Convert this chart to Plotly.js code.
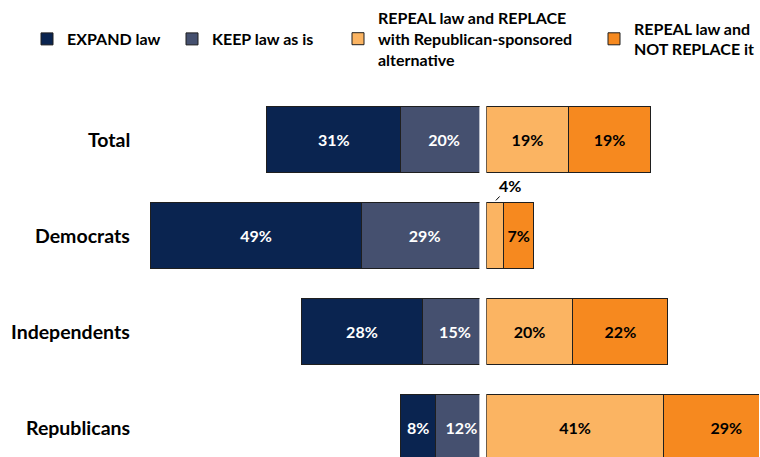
<!DOCTYPE html>
<html>
<head>
<meta charset="utf-8">
<script src="https://cdn.plot.ly/plotly-3.0.1.min.js"></script>
<style>html,body{margin:0;padding:0;background:#fff;}#chart{width:760px;height:457px;}</style>
</head>
<body>
<div id="chart"></div>
<script>
// ---- data ----
var categories = ['Total', 'Democrats', 'Independents', 'Republicans'];
var expandLaw = [31, 49, 28, 8];
var keepLaw = [20, 29, 15, 12];
var repealReplace = [19, 4, 20, 41];
var repealNotReplace = [19, 7, 22, 29];
var seriesNames = ['EXPAND law', 'KEEP law as is',
  'REPEAL law and REPLACE<br>with Republican-sponsored<br>alternative',
  'REPEAL law and<br>NOT REPLACE it'];

var FONT = 'Lato, "Open Sans", sans-serif';
var PXPER = 4.33; // pixels per percentage point
var W = 760, H = 457;

function pct(arr, minShow) {
  return arr.map(function (v) { return v < minShow ? '' : v + '%'; });
}

var lineStyle = {color: '#1f1f1f', width: 1};
var labelFont = function (col) { return {family: FONT, size: 16, color: col, weight: 'bold'}; };

var traces = [
  {
    type: 'bar', orientation: 'h', name: seriesNames[1], legend: 'legend2',
    y: categories, x: keepLaw, xaxis: 'x', yaxis: 'y',
    marker: {color: '#45506F', line: lineStyle},
    text: pct(keepLaw, 0), textposition: 'inside', insidetextanchor: 'middle',
    textangle: 0, constraintext: 'none', textfont: labelFont('#ffffff'),
    hoverinfo: 'skip'
  },
  {
    type: 'bar', orientation: 'h', name: seriesNames[0], legend: 'legend',
    y: categories, x: expandLaw, xaxis: 'x', yaxis: 'y',
    marker: {color: '#0A2450', line: lineStyle},
    text: pct(expandLaw, 0), textposition: 'inside', insidetextanchor: 'middle',
    textangle: 0, constraintext: 'none', textfont: labelFont('#ffffff'),
    hoverinfo: 'skip'
  },
  {
    type: 'bar', orientation: 'h', name: seriesNames[2], legend: 'legend3',
    y: categories, x: repealReplace, xaxis: 'x2', yaxis: 'y',
    marker: {color: '#FBB462', line: lineStyle},
    text: pct(repealReplace, 5), textposition: 'inside', insidetextanchor: 'middle',
    textangle: 0, constraintext: 'none', textfont: labelFont('#000000'),
    hoverinfo: 'skip'
  },
  {
    type: 'bar', orientation: 'h', name: seriesNames[3], legend: 'legend4',
    y: categories, x: repealNotReplace, xaxis: 'x2', yaxis: 'y',
    marker: {color: '#F6891F', line: lineStyle},
    text: pct(repealNotReplace, 0), textposition: 'inside', insidetextanchor: 'middle',
    textangle: 0, constraintext: 'none', textfont: labelFont('#000000'),
    hoverinfo: 'skip'
  }
];

var annotations = categories.map(function (c) {
  return {
    xref: 'paper', yref: 'y', x: 132 / W, y: c, xanchor: 'right', yanchor: 'middle',
    text: c, showarrow: false,
    font: {family: FONT, size: 19.5, color: '#000000', weight: 'bold'}
  };
});
var demIdx = categories.indexOf('Democrats');
annotations.push({
  xref: 'x2', yref: 'y', x: repealReplace[demIdx] * 0.55, y: demIdx - 0.36,
  text: repealReplace[demIdx] + '%', showarrow: true, arrowhead: 0, arrowwidth: 1,
  arrowcolor: '#000000', ax: 14, ay: -15,
  font: labelFont('#000000')
});

function legendAt(xpx) {
  return {
    x: xpx / W, xanchor: 'left', y: 1 - 39 / H, yanchor: 'middle',
    orientation: 'v', bgcolor: 'rgba(0,0,0,0)', borderwidth: 0,
    font: {family: FONT, size: 16, color: '#000000', weight: 'bold'}
  };
}

var axisBase = {showgrid: false, zeroline: false, showline: false, showticklabels: false, ticks: '', fixedrange: true};

var layout = {
  width: W, height: H,
  margin: {l: 0, r: 0, t: 0, b: 0, pad: 0},
  paper_bgcolor: '#ffffff', plot_bgcolor: 'rgba(0,0,0,0)',
  barmode: 'stack', bargap: 0.3125,
  showlegend: true,
  xaxis: Object.assign({}, axisBase, {domain: [0, 480 / W], range: [488 / PXPER, 8 / PXPER]}),
  xaxis2: Object.assign({}, axisBase, {domain: [487 / W, 1], range: [0, (W - 487) / PXPER], anchor: 'y'}),
  yaxis: Object.assign({}, axisBase, {type: 'category', range: [3 + 30 / 96, -139 / 96]}),
  legend: legendAt(27),
  legend2: legendAt(172),
  legend3: legendAt(338),
  legend4: legendAt(595),
  annotations: annotations
};

Plotly.newPlot('chart', traces, layout, {displayModeBar: false, staticPlot: true});
</script>
</body>
</html>
